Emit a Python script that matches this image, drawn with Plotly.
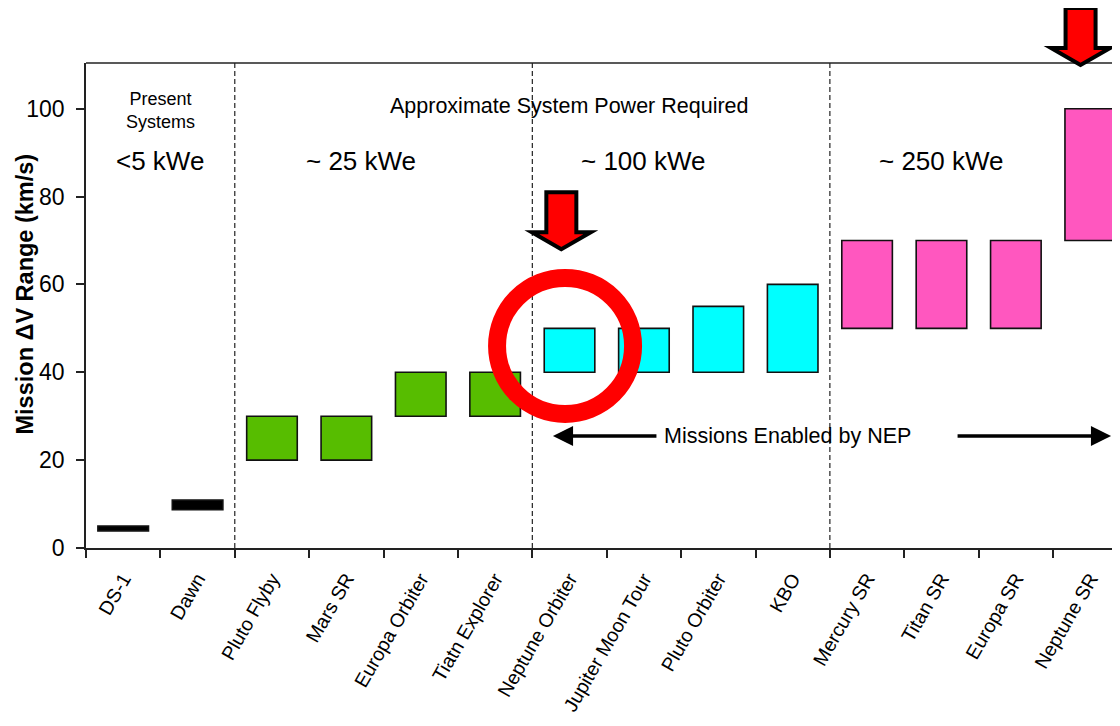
import plotly.graph_objects as go

# ---------------- data ----------------
categories = ["DS-1", "Dawn", "Pluto Flyby", "Mars SR", "Europa Orbiter", "Tiatn Explorer",
              "Neptune Orbiter", "Jupiter Moon Tour", "Pluto Orbiter", "KBO",
              "Mercury SR", "Titan SR", "Europa SR", "Neptune SR"]
dv_low = [3.9, 8.7, 20, 20, 30, 30, 40, 40, 40, 40, 50, 50, 50, 70]
dv_high = [5.0, 10.9, 30, 30, 40, 40, 50, 50, 55, 60, 70, 70, 70, 100]
power_class = ["present", "present", "25", "25", "25", "25", "100", "100", "100", "100",
               "250", "250", "250", "250"]
class_colors = {"present": "#000000", "25": "#57BD00", "100": "#00FFFF", "250": "#FF57BF"}

region_boundaries = [1.5, 5.5, 9.5]
region_labels = ["<5 kWe", "~ 25 kWe", "~ 100 kWe", "~ 250 kWe"]
region_label_x = [0.5, 3.2, 7.0, 11.0]
region_label_y = 88.2
y_ticks = [0, 20, 40, 60, 80, 100]

FONT = "Liberation Sans, Arial, sans-serif"

fig = go.Figure()
fig.add_trace(go.Bar(
    x=categories,
    y=[h - l for h, l in zip(dv_high, dv_low)],
    base=dv_low,
    width=0.68,
    marker=dict(color=[class_colors[c] for c in power_class],
                line=dict(color="#111111", width=1.6)),
    showlegend=False,
    hoverinfo="skip",
))

shapes = []
# dashed region separators
for b in region_boundaries:
    shapes.append(dict(type="line", xref="x", yref="paper", x0=b, x1=b, y0=0, y1=1,
                       line=dict(color="#222222", width=1.2, dash="5px,3px"), layer="below"))
# top border
shapes.append(dict(type="line", xref="paper", yref="paper", x0=0, x1=1, y0=1, y1=1,
                   line=dict(color="#222222", width=1.5)))

# down arrow outline (pixel offsets, tip at anchor)
arrow_path = "M0,0 L-29.5,17 L-15,17 L-15,57 L15,57 L15,17 L29.5,17 Z"
arrow_path_top = "M0,-2 L-29.5,15 L-15,15 L-15,55 L15,55 L15,15 L29.5,15 Z"
shapes.append(dict(type="path", xref="x", yref="y", xsizemode="pixel", ysizemode="pixel",
                   xanchor=5.89, yanchor=68, path=arrow_path,
                   fillcolor="#FF0000", line=dict(color="black", width=4)))
shapes.append(dict(type="path", xref="x", yref="paper", xsizemode="pixel", ysizemode="pixel",
                   xanchor=12.87, yanchor=1.0, path=arrow_path_top,
                   fillcolor="#FF0000", line=dict(color="black", width=4)))
# red ring
shapes.append(dict(type="circle", xref="x", yref="y", xsizemode="pixel", ysizemode="pixel",
                   xanchor=5.94, yanchor=46, x0=-68, x1=68, y0=-68, y1=68,
                   line=dict(color="#FF0000", width=18)))

annotations = []
for lab, lx in zip(region_labels, region_label_x):
    annotations.append(dict(x=lx, y=region_label_y, xref="x", yref="y", text=lab,
                            showarrow=False, font=dict(size=26, color="black", family=FONT)))
annotations.append(dict(x=0.5, y=99.6, xref="x", yref="y", text="Present<br>Systems",
                        showarrow=False, font=dict(size=18, color="black", family=FONT)))
annotations.append(dict(x=6.0, y=100.5, xref="x", yref="y", text="Approximate System Power Required",
                        showarrow=False, font=dict(size=21.5, color="black", family=FONT)))
annotations.append(dict(x=8.93, y=25.5, xref="x", yref="y", text="Missions Enabled by NEP",
                        showarrow=False, font=dict(size=21.5, color="black", family=FONT)))
annotations.append(dict(x=5.777, y=25.5, xref="x", yref="y", text="", showarrow=True,
                        ax=105, ay=0, arrowhead=2, arrowsize=1.15, arrowwidth=3.5,
                        arrowcolor="black"))
annotations.append(dict(x=13.28, y=25.5, xref="x", yref="y", text="", showarrow=True,
                        ax=-155, ay=0, arrowhead=2, arrowsize=1.15, arrowwidth=3.5,
                        arrowcolor="black"))
# y-axis title (placed as annotation to match its offset from centre)
annotations.append(dict(x=0, y=0.5, xref="paper", yref="paper", xanchor="center", yanchor="middle",
                        xshift=-62, yshift=11,
                        text="<b>Mission \u0394V Range (km/s)</b>", textangle=-90,
                        showarrow=False, font=dict(size=23.5, color="black", family=FONT)))

# page body has an 8px default margin, so the figure is 8px smaller and margins shifted
fig.update_layout(
    width=1112, height=718,
    margin=dict(l=78, r=0, t=55, b=178),
    paper_bgcolor="white", plot_bgcolor="white",
    font=dict(family=FONT, color="black"),
    shapes=shapes, annotations=annotations,
)
fig.update_xaxes(
    type="category", range=[-0.5, 13.4],
    showline=True, linecolor="#222222", linewidth=1.5,
    ticks="outside", tickson="boundaries", ticklen=8, tickwidth=1.5, tickcolor="#222222",
    tickangle=-60, tickfont=dict(size=19.5, family=FONT, color="black"),
    ticklabelstandoff=10,
    showgrid=False, zeroline=False,
)
fig.update_yaxes(
    range=[0, 110.4], tickvals=y_ticks,
    showline=True, linecolor="#222222", linewidth=1.5,
    ticks="outside", ticklen=8, tickwidth=1.5, tickcolor="#222222",
    tickfont=dict(size=23, family=FONT, color="black"),
    ticklabelstandoff=7,
    showgrid=False, zeroline=False,
)

fig.write_html("out.html")
